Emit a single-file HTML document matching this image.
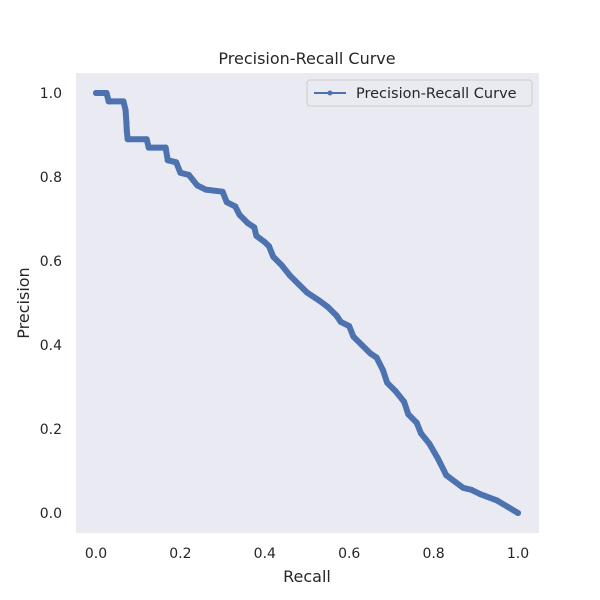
<!DOCTYPE html>
<html><head><meta charset="utf-8"><style>
body{margin:0;background:#fff;}
svg{display:block;font-family:"DejaVu Sans","Liberation Sans",sans-serif;}
</style></head><body>
<svg id="chart" width="600" height="600">
<rect x="76" y="73" width="463" height="460" fill="#eaeaf2"/>
<text x="307" y="64" text-anchor="middle" font-size="16" fill="#262626">Precision-Recall Curve</text>
<text x="307" y="582" text-anchor="middle" font-size="16" fill="#262626">Recall</text>
<text transform="translate(29,303) rotate(-90)" text-anchor="middle" font-size="16" fill="#262626">Precision</text>
<g id="ticks"></g>
<g id="series"></g>
<g>
<rect x="307" y="80" width="225" height="26" rx="3" fill="#eaeaf2" stroke="#cccccc"/>
<line x1="314" y1="93" x2="346" y2="93" stroke="#4c72b0" stroke-width="2"/>
<circle cx="330" cy="93" r="2.5" fill="#4c72b0"/>
<text x="356" y="98" font-size="14.5" fill="#262626">Precision-Recall Curve</text>
</g>
</svg>
<script>
const recall=[0,0.025,0.03,0.065,0.07,0.072,0.073,0.075,0.12,0.125,0.165,0.17,0.19,0.2,0.22,0.24,0.26,0.3,0.31,0.33,0.34,0.36,0.375,0.38,0.4,0.41,0.42,0.44,0.46,0.48,0.5,0.53,0.55,0.57,0.58,0.6,0.61,0.63,0.65,0.665,0.68,0.69,0.71,0.73,0.74,0.76,0.77,0.79,0.81,0.83,0.85,0.87,0.89,0.91,0.95,1.0];
const precision=[1.0,1.0,0.98,0.98,0.96,0.93,0.91,0.89,0.89,0.87,0.87,0.84,0.835,0.81,0.805,0.78,0.77,0.765,0.74,0.73,0.71,0.69,0.68,0.66,0.645,0.635,0.61,0.59,0.565,0.545,0.525,0.505,0.49,0.47,0.455,0.445,0.42,0.40,0.38,0.37,0.34,0.31,0.29,0.265,0.235,0.215,0.19,0.165,0.13,0.09,0.075,0.06,0.055,0.045,0.03,0.0];
const xTicks=["0.0","0.2","0.4","0.6","0.8","1.0"];
const yTicks=["0.0","0.2","0.4","0.6","0.8","1.0"];
const NS="http://www.w3.org/2000/svg";
function xs(v){return 96+v*422;}
function ys(v){return 513-v*420;}
const tg=document.getElementById('ticks');
xTicks.forEach(t=>{const e=document.createElementNS(NS,'text');
e.setAttribute('x',xs(parseFloat(t)));e.setAttribute('y',558);e.setAttribute('text-anchor','middle');e.setAttribute('font-size','14');e.setAttribute('fill','#262626');e.textContent=t;


tg.appendChild(e);});
yTicks.forEach(t=>{const e=document.createElementNS(NS,'text');
e.setAttribute('x',62);e.setAttribute('y',ys(parseFloat(t))+5);e.setAttribute('text-anchor','end');e.setAttribute('font-size','14');e.setAttribute('fill','#262626');e.textContent=t;


tg.appendChild(e);});
const sg=document.getElementById('series');
const pl=document.createElementNS(NS,'polyline');
pl.setAttribute('points',recall.map((r,i)=>xs(r)+','+ys(precision[i])).join(' '));
pl.setAttribute('fill','none');pl.setAttribute('stroke','#4c72b0');pl.setAttribute('stroke-width','6');pl.setAttribute('stroke-linejoin','round');pl.setAttribute('stroke-linecap','round');


sg.appendChild(pl);
recall.forEach((r,i)=>{const c=document.createElementNS(NS,'circle');
c.setAttribute('cx',xs(r));c.setAttribute('cy',ys(precision[i]));c.setAttribute('r',3);c.setAttribute('fill','#4c72b0');


sg.appendChild(c);});
</script>
</body></html>
